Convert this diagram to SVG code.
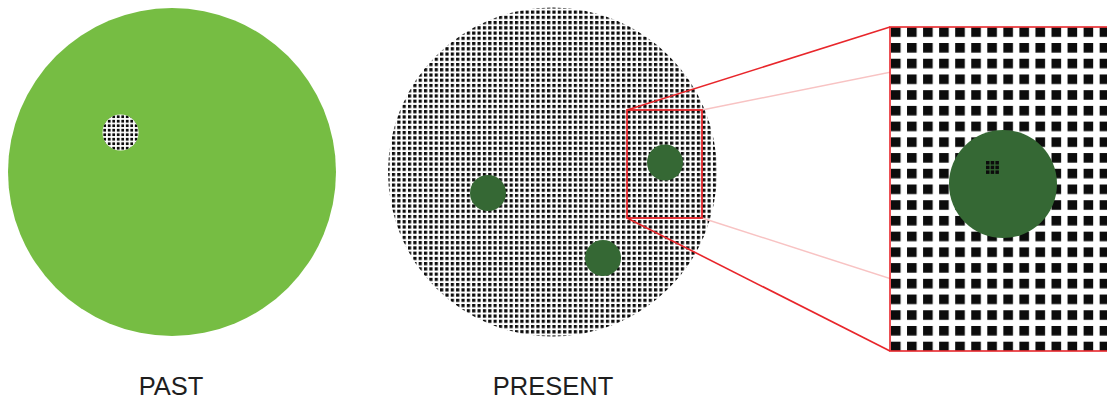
<svg xmlns="http://www.w3.org/2000/svg" width="1107" height="400" viewBox="0 0 1107 400">
  <style>
    .lbl { font-family: "Liberation Sans", Arial, sans-serif; font-size: 25.5px; fill: #1e1e1e; text-anchor: middle; }
    .dg { fill: #356834; }
    .dot { fill: #0c0c0c; }
    .red { stroke: #e8262b; fill: none; }
    .pink { stroke: #f8c3c3; stroke-width: 1.5; fill: none; }
  </style>
  <defs>
    <pattern id="pSmall" patternUnits="userSpaceOnUse" x="102.5" y="114.5" width="4.5" height="4.5">
      <rect x="0.8" y="0.8" width="2.8" height="2.8" class="dot"/>
    </pattern>
    <pattern id="pPresent" patternUnits="userSpaceOnUse" x="627.3" y="110.1" width="5.35" height="5.24">
      <rect x="0" y="0" width="3.2" height="3.2" class="dot"/>
    </pattern>
    <pattern id="pZoom" patternUnits="userSpaceOnUse" x="891" y="27.3" width="16.05" height="15.72">
      <rect x="0" y="0" width="9.6" height="9.6" class="dot"/>
    </pattern>
    <clipPath id="clipZoom">
      <rect x="890" y="27" width="225" height="324"/>
    </clipPath>
  </defs>

  <g id="past">
    <circle cx="172" cy="172" r="164" fill="#76bd43"/>
    <circle cx="120.5" cy="132.5" r="18" fill="#ffffff"/>
    <circle cx="120.5" cy="132.5" r="18" fill="url(#pSmall)"/>
    <text class="lbl" x="171" y="395">PAST</text>
  </g>

  <g id="present">
    <circle cx="552.5" cy="172" r="164.5" fill="url(#pPresent)"/>
    <circle class="dg" cx="488" cy="193" r="18"/>
    <circle class="dg" cx="665" cy="162.5" r="18"/>
    <circle class="dg" cx="603" cy="258" r="18"/>
    <text class="lbl" x="553" y="395">PRESENT</text>
  </g>

  <g id="connectors">
    <line class="pink" x1="702" y1="110" x2="1115" y2="27"/>
    <line class="pink" x1="702" y1="218" x2="1115" y2="351"/>
    <line class="red" stroke-width="1.6" x1="627" y1="110" x2="890" y2="27"/>
    <line class="red" stroke-width="1.6" x1="627" y1="218" x2="890" y2="351"/>
  </g>

  <g id="selection">
    <rect class="red" stroke-width="1.8" x="627" y="110" width="75" height="108"/>
  </g>

  <g id="zoom">
    <rect x="890" y="27" width="225" height="324" fill="#ffffff"/>
    <rect x="890" y="27" width="225" height="324" fill="url(#pZoom)" clip-path="url(#clipZoom)"/>
    <circle class="dg" cx="1003" cy="184" r="54"/>
    <g class="dot">
      <rect x="986" y="161" width="3.5" height="3.5"/>
      <rect x="990.7" y="161" width="3.5" height="3.5"/>
      <rect x="995.4" y="161" width="3.5" height="3.5"/>
      <rect x="986" y="165.7" width="3.5" height="3.5"/>
      <rect x="990.7" y="165.7" width="3.5" height="3.5"/>
      <rect x="995.4" y="165.7" width="3.5" height="3.5"/>
      <rect x="986" y="170.4" width="3.5" height="3.5"/>
      <rect x="990.7" y="170.4" width="3.5" height="3.5"/>
      <rect x="995.4" y="170.4" width="3.5" height="3.5"/>
    </g>
    <rect class="red" stroke-width="1.6" x="890" y="27" width="225" height="324"/>
  </g>
</svg>
